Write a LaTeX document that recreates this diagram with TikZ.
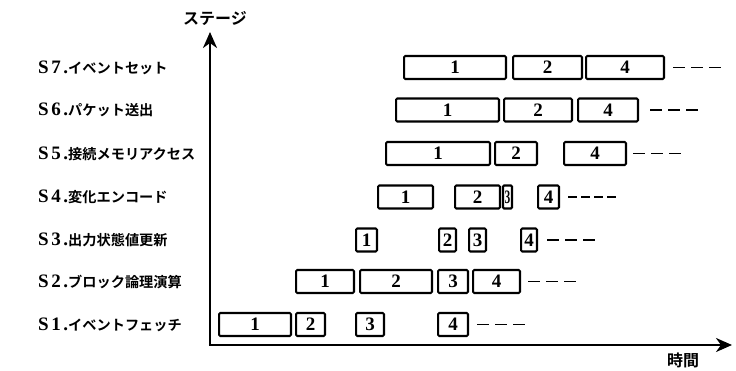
\documentclass[tikz,border=0pt]{standalone}
\usepackage{fontspec}
\setmainfont{Liberation Serif}
\newfontfamily\cjk{Noto Sans CJK JP}[BoldFont={Noto Sans CJK JP Bold}]
\usetikzlibrary{arrows.meta}
\tikzset{
  stagebox/.style={draw, line width=2.1pt, rounded corners=1.2pt, minimum height=23pt,
    inner sep=0pt, font=\bfseries\fontsize{19}{19}\selectfont},
  dashline/.style={line width=1.8pt, dash pattern=on 12pt off 6pt},
  axisline/.style={line width=2.4pt, -{Stealth[length=16pt,width=14pt,inset=5pt]}},
  stagelabel/.style={anchor=west, inner sep=0pt, font=\cjk\bfseries\fontsize{14.2}{15}\selectfont},
  axislabel/.style={inner sep=0pt, font=\cjk\bfseries\fontsize{16}{16}\selectfont},
}
% one box of a stage: name, left x, right x, row y, text
\newcommand\pipebox[5]{\node[stagebox, minimum width={(#3-#2-2.1)*1pt}] (#1) at ({(#2+#3)/2},#4) {#5};}
% stage number prefix
\newcommand\stagename[1]{\makebox[30pt][s]{\rmfamily\bfseries\fontsize{19}{19}\selectfont S\hfill#1\hfill.}}
\begin{document}
\begin{tikzpicture}[x=1pt,y=-1pt]
\useasboundingbox (0,0) rectangle (736,370);

% axes
\coordinate (O) at (210,345);
\coordinate (ytop) at (210,32);
\coordinate (xend) at (732,345);
\draw[axisline] (O) -- (ytop);
\draw[axisline] ([xshift=-1.2pt]O) -- (xend);
\node[axislabel] (ylab) at (215,18) {ステージ};
\node[axislabel] (xlab) at (683,360) {時間};

% stage labels
\node[stagelabel] (l7) at (38,67.5) {\stagename{7}イベントセット};
\node[stagelabel] (l6) at (38,110) {\stagename{6}パケット送出};
\node[stagelabel] (l5) at (38,153.5) {\stagename{5}接続メモリアクセス};
\node[stagelabel] (l4) at (38,197) {\stagename{4}変化エンコード};
\node[stagelabel] (l3) at (38,240) {\stagename{3}出力状態値更新};
\node[stagelabel] (l2) at (38,282) {\stagename{2}ブロック論理演算};
\node[stagelabel] (l1) at (38,324.5) {\stagename{1}イベントフェッチ};

% S7
\pipebox{s7a}{403}{507}{67.5}{1}
\pipebox{s7b}{512}{583}{67.5}{2}
\pipebox{s7c}{585}{665}{67.5}{4}
% S6
\pipebox{s6a}{395}{500}{110}{1}
\pipebox{s6b}{503}{573}{110}{2}
\pipebox{s6c}{577}{639}{110}{4}
% S5
\pipebox{s5a}{385}{491}{153.5}{1}
\pipebox{s5b}{494}{538}{153.5}{2}
\pipebox{s5c}{563}{627}{153.5}{4}
% S4
\pipebox{s4a}{377}{434}{197}{1}
\pipebox{s4b}{454}{501}{197}{2}
\node[stagebox, minimum width=9pt] (s4c) at (507.5,197) {\scalebox{0.6}[1]{3}};
\pipebox{s4d}{537}{560}{197}{4}
% S3
\pipebox{s3a}{355}{378}{240}{1}
\pipebox{s3b}{438}{457}{240}{2}
\pipebox{s3c}{468}{487}{240}{3}
\pipebox{s3d}{520}{538}{240}{4}
% S2
\pipebox{s2a}{295}{355}{281.5}{1}
\pipebox{s2b}{359}{433}{281.5}{2}
\pipebox{s2c}{437}{469}{281.5}{3}
\pipebox{s2d}{472}{521}{281.5}{4}
% S1
\pipebox{s1a}{218}{292}{324.5}{1}
\pipebox{s1b}{295}{326}{324.5}{2}
\pipebox{s1c}{355}{385}{324.5}{3}
\pipebox{s1d}{437}{469}{324.5}{4}

% continuation dashes
\coordinate (d7) at (721,67.5);
\coordinate (d6) at (700,110);
\coordinate (d5) at (683,153.5);
\coordinate (d4) at (618,197);
\coordinate (d3) at (595,240);
\coordinate (d2) at (578,281.5);
\coordinate (d1) at (525,324.5);
\draw[dashline] ([xshift=8pt]s7c.east) -- (d7);
\draw[dashline] ([xshift=11pt]s6c.east) -- (d6);
\draw[dashline] ([xshift=6pt]s5c.east) -- (d5);
\draw[dashline, dash pattern=on 9pt off 4pt] ([xshift=8pt]s4d.east) -- (d4);
\draw[dashline] ([xshift=9pt]s3d.east) -- (d3);
\draw[dashline] ([xshift=7pt]s2d.east) -- (d2);
\draw[dashline] ([xshift=8pt]s1d.east) -- (d1);
\end{tikzpicture}
\end{document}
